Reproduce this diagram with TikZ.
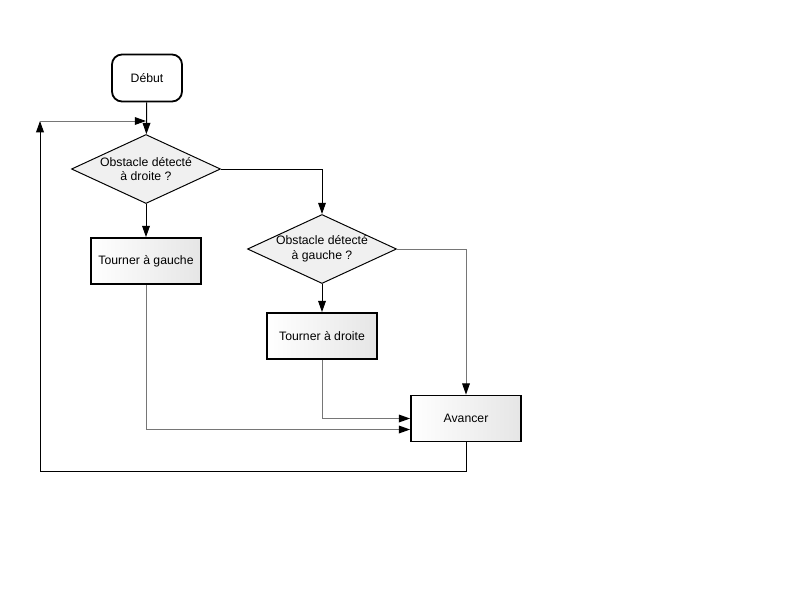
\documentclass[tikz,border=0pt]{standalone}
\usepackage{fontspec}
\setmainfont{Liberation Sans}
\usetikzlibrary{shapes.geometric, arrows.meta, calc}
\definecolor{linegray}{RGB}{118,118,118}
\tikzset{
  stepbox/.style={draw, line width=1.3pt, rectangle, left color=white, right color=black!10,
    minimum width=2.75cm, minimum height=1.15cm, inner sep=0pt},
  startbox/.style={draw, line width=1.3pt, rectangle, rounded corners=0.25cm, fill=white,
    minimum width=1.75cm, minimum height=1.175cm, inner sep=0pt},
  test/.style={draw, line width=0.7pt, diamond, fill=black!6, aspect=2.16,
    minimum width=3.725cm, minimum height=1.725cm, inner sep=0pt},
  flow/.style={draw, line width=0.7pt, -{Triangle[length=8pt,width=5.5pt,color=black]}},
  grayflow/.style={flow, linegray}
}

\begin{document}
\begin{tikzpicture}[x=0.025cm, y=-0.025cm, font=\fontsize{8.7}{10.5}\selectfont]
  \useasboundingbox (0,0) rectangle (800,600);
  \node [startbox] (debut) at (147,78) {Début};
  \node [test, label={[align=center]center:Obstacle détecté\\à droite ?}] (d1) at (146,169) {};
  \node [stepbox] (tg) at (146,261) {Tourner à gauche};
  \node [test, label={[align=center]center:Obstacle détecté\\à gauche ?}] (d2) at (322,249) {};
  \node [stepbox] (td) at (322,336) {Tourner à droite};
  \node [stepbox] (avancer) at (466,418.5) {Avancer};
  \coordinate (corner) at (40,121);
  \coordinate (loopin) at (146,121);
  \draw [flow] (debut) -- (d1);
  \draw [flow] (d1.south) -- (tg.north);
  \draw [flow] (d1.east) -| (d2.north);
  \draw [flow] (d2.south) -- (td.north);
  \draw [grayflow] (d2.east) -| (avancer.north);
  \draw [grayflow] (td.south) |- (avancer.west);
  \draw [grayflow] (tg.south) |- ($(avancer.west)+(0,11)$);
  \draw [flow] (avancer.south) -- ++(0,29.5) -| (corner);
  \draw [grayflow] (corner) -- (loopin);
\end{tikzpicture}
\end{document}
